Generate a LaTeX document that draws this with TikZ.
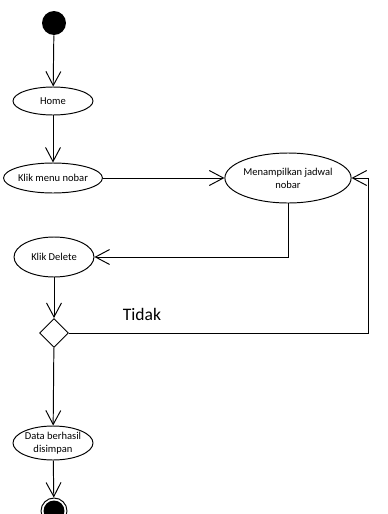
\documentclass[tikz,border=0pt]{standalone}
\usepackage{fontspec}
\setmainfont{Carlito}
\usetikzlibrary{shapes.geometric, arrows.meta}

\tikzset{
    act/.style={draw, ellipse, line width=0.55pt, inner sep=0pt, align=center,
        font=\fontsize{6}{7.5}\selectfont},
    flow/.style={line width=0.55pt, -{Straight Barb[length=8pt, width=8.5pt, line width=0.55pt]}},
}

\begin{document}
\begin{tikzpicture}[x=0.02cm, y=-0.02cm]
    \useasboundingbox (0,0) rectangle (387,514);
    \clip (0,0) rectangle (387,514);

    % start and end
    \node[circle, fill=black, inner sep=0pt, minimum size=0.48cm] (start) at (54,23) {};
    \node[circle, draw, line width=0.55pt, inner sep=0pt, minimum size=0.52cm] (end) at (54,511) {};
    \fill (end.center) circle (0.21cm);

    % activities
    \node[act, minimum width=1.6cm, minimum height=0.56cm] (home) at (53,101) {Home};
    \node[act, minimum width=1.72cm, minimum height=0.6cm] (klik) at (53,178) {Klik menu nobar};
    \node[act, minimum width=2.14cm, minimum height=1.0cm] (jadwal) at (288,178) {Menampilkan jadwal\\nobar};
    \node[act, minimum width=1.6cm, minimum height=0.8cm] (delete) at (54,257) {Klik Delete};
    \node[act, minimum width=1.6cm, minimum height=0.68cm] (data) at (53,443) {Data berhasil\\disimpan};

    % decision
    \node[diamond, draw, line width=0.55pt, inner sep=0pt, minimum width=0.58cm, minimum height=0.58cm] (dec) at (54,333) {};
    \node[font=\fontsize{10}{12}\selectfont] (tidak) at (142,314) {Tidak};
    \coordinate (turn) at (368,333);

    % flows
    \draw[flow] (start) -- (home);
    \draw[flow] (home) -- (klik);
    \draw[flow] (klik) -- (jadwal);
    \draw[flow] (jadwal.south) |- (delete);
    \draw[flow] (delete) -- (dec);
    \draw[flow] (dec.east) -- (turn) |- (jadwal.east);
    \draw[flow] (dec) -- (data);
    \draw[flow] (data) -- (end);
\end{tikzpicture}
\end{document}
